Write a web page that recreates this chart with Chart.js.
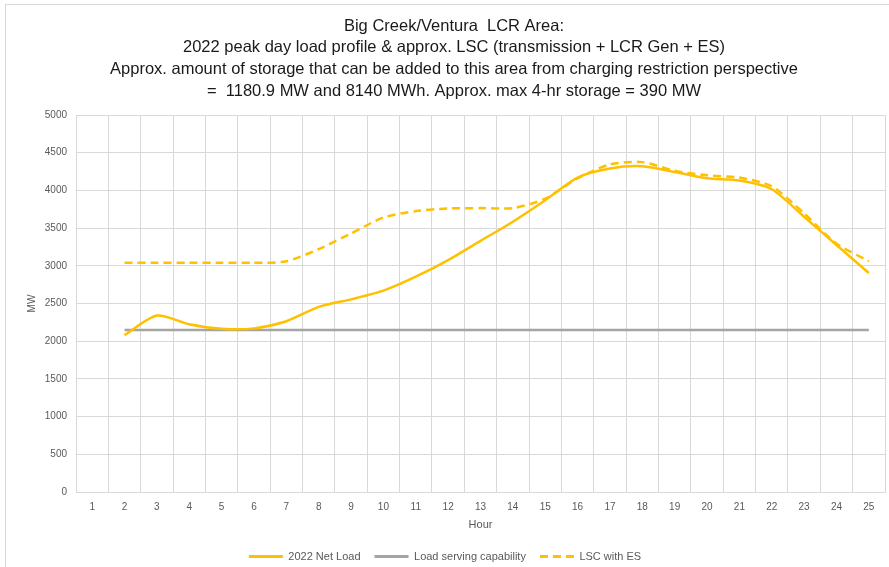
<!DOCTYPE html>
<html>
<head>
<meta charset="utf-8">
<script src="https://cdn.jsdelivr.net/npm/chart.js@4.4.1/dist/chart.umd.min.js"></script>
<style>
  html, body { margin: 0; padding: 0; background: #fff; overflow: hidden; }
  #frame { position: absolute; left: 5px; top: 4px; width: 900px; height: 580px;
           border-top: 1px solid #d9d9d9; border-left: 1px solid #d9d9d9; }
  #mycanvas { position: absolute; left: 5px; top: 4px; }
</style>
</head>
<body>
<div id="frame"></div>
<canvas id="mycanvas" width="884" height="563"></canvas>
<script>
var hours = ["1","2","3","4","5","6","7","8","9","10","11","12","13","14","15","16","17","18","19","20","21","22","23","24","25"];
var netLoad = [null, 2080, 2340, 2225, 2165, 2170, 2265, 2455, 2555, 2670, 2855, 3075, 3330, 3585, 3870, 4170, 4290, 4320, 4245, 4160, 4130, 4015, 3650, 3275, 2905];
var lsc = [null, 2150, 2150, 2150, 2150, 2150, 2150, 2150, 2150, 2150, 2150, 2150, 2150, 2150, 2150, 2150, 2150, 2150, 2150, 2150, 2150, 2150, 2150, 2150, 2150];
var lscWithEs = [null, 3040, 3040, 3040, 3040, 3040, 3060, 3220, 3430, 3640, 3725, 3760, 3765, 3765, 3890, 4160, 4345, 4375, 4260, 4200, 4170, 4055, 3695, 3295, 3060];
var titleLines = [
  "Big Creek/Ventura  LCR Area:",
  "2022 peak day load profile & approx. LSC (transmission + LCR Gen + ES)",
  "Approx. amount of storage that can be added to this area from charging restriction perspective",
  "=  1180.9 MW and 8140 MWh. Approx. max 4-hr storage = 390 MW"
];

var gold = "#FFC000";
var gray = "#A5A5A5";
var txt = "#595959";
var gridColor = "#d9d9d9";
var font = "'Liberation Sans', Arial, sans-serif";

// title drawn by hand so it can sit centred on the whole chart area
var titlePlugin = {
  id: "topTitle",
  afterDraw: function(chart) {
    var c = chart.ctx;
    c.save();
    c.font = "16.5px " + font;
    c.fillStyle = "#1a1a1a";
    c.textAlign = "center";
    c.textBaseline = "middle";
    for (var i = 0; i < titleLines.length; i++) {
      c.fillText(titleLines[i], 449, 22 + i * 21.7);
    }
    c.restore();
  }
};

var chartdata = {
  labels: hours,
  datasets: [
    {
      label: "2022 Net Load",
      data: netLoad,
      borderColor: gold,
      backgroundColor: gold,
      borderWidth: 2.5,
      pointRadius: 0,
      tension: 0.25,
      fill: false
    },
    {
      label: "Load serving capability",
      data: lsc,
      borderColor: gray,
      backgroundColor: gray,
      borderWidth: 2.5,
      pointRadius: 0,
      tension: 0,
      fill: false
    },
    {
      label: "LSC with ES",
      data: lscWithEs,
      borderColor: gold,
      backgroundColor: gold,
      borderWidth: 2.5,
      borderDash: [8, 5],
      pointRadius: 0,
      tension: 0.25,
      fill: false
    }
  ]
};

var ctx = document.getElementById("mycanvas");

var LineGraph = new Chart(ctx, {
  type: "line",
  data: chartdata,
  plugins: [titlePlugin],
  options: {
    responsive: false,
    animation: false,
    layout: { padding: { top: 111, right: 4, left: 0, bottom: -5 } },
    plugins: {
      title: { display: false },
      tooltip: { enabled: false },
      legend: {
        position: "bottom",
        labels: {
          usePointStyle: true,
          pointStyle: "line",
          pointStyleWidth: 34,
          boxHeight: 10,
          padding: 14,
          color: txt,
          font: { family: font, size: 11 },
          generateLabels: function(chart) {
            var items = Chart.defaults.plugins.legend.labels.generateLabels(chart);
            items.forEach(function(it) {
              var ds = chart.data.datasets[it.datasetIndex];
              it.lineDash = ds.borderDash || [];
              it.strokeStyle = ds.borderColor;
              it.lineWidth = 3;
            });
            return items;
          }
        }
      }
    },
    scales: {
      x: {
        offset: true,
        grid: { offset: true, color: gridColor, drawTicks: false },
        border: { color: gridColor },
        ticks: {
          color: txt,
          padding: 9,
          maxRotation: 0,
          autoSkip: false,
          font: { family: font, size: 10 }
        },
        title: {
          display: true,
          text: "Hour",
          color: txt,
          padding: { top: 0, bottom: 5 },
          font: { family: font, size: 11 }
        },
        afterFit: function(scale) { scale.height = 45; }
      },
      y: {
        min: 0,
        max: 5000,
        grid: { color: gridColor, drawTicks: false },
        border: { color: gridColor },
        ticks: {
          stepSize: 500,
          color: txt,
          padding: 9,
          font: { family: font, size: 10 },
          callback: function(v) { return String(v); }
        },
        title: {
          display: true,
          text: "MW",
          color: txt,
          padding: { top: 21, bottom: 0 },
          font: { family: font, size: 10 }
        },
        afterFit: function(scale) { scale.width = 71; }
      }
    }
  }
});
</script>
</body>
</html>
